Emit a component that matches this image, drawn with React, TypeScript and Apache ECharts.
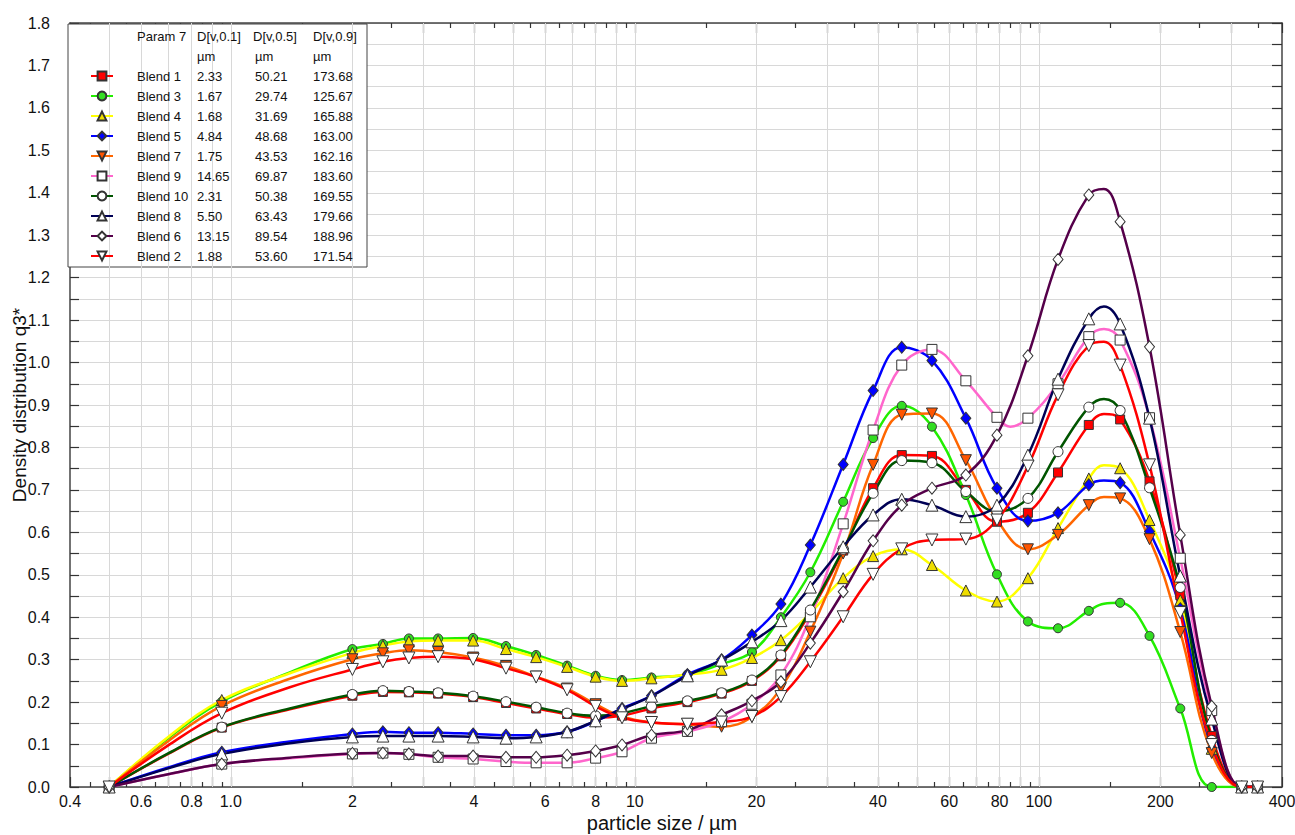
import React, { useEffect, useRef } from 'react';
import * as echarts from 'echarts';

// particle-size channels (µm) at which markers are drawn
const SIZES = [0.5, 0.95, 2.0, 2.38, 2.76, 3.26, 3.98, 4.8, 5.7, 6.8, 8.0, 9.3, 11, 13.5, 16.4, 19.5, 23, 27.2, 32.8, 38.9, 45.8, 54.4, 66, 78.8, 94, 111.6, 133, 159, 188, 224, 268, 318, 348];

const BLEND_1 = [0, 0.14, 0.215, 0.224, 0.223, 0.22, 0.212, 0.198, 0.185, 0.172, 0.163, 0.168, 0.185, 0.2, 0.22, 0.25, 0.308, 0.412, 0.557, 0.704, 0.782, 0.78, 0.70, 0.625, 0.646, 0.741, 0.853, 0.866, 0.72, 0.452, 0.12, 0, 0];
const BLEND_3 = [0, 0.201, 0.325, 0.337, 0.35, 0.35, 0.351, 0.332, 0.311, 0.286, 0.262, 0.252, 0.258, 0.265, 0.29, 0.318, 0.4, 0.506, 0.672, 0.822, 0.898, 0.849, 0.688, 0.501, 0.39, 0.374, 0.415, 0.434, 0.356, 0.185, 0, 0, 0];
const BLEND_4 = [0, 0.205, 0.316, 0.333, 0.343, 0.345, 0.345, 0.325, 0.306, 0.283, 0.26, 0.25, 0.256, 0.265, 0.276, 0.304, 0.346, 0.41, 0.492, 0.544, 0.56, 0.523, 0.463, 0.437, 0.492, 0.61, 0.727, 0.751, 0.629, 0.44, 0.09, 0, 0];
const BLEND_5 = [0, 0.082, 0.125, 0.13, 0.128, 0.128, 0.125, 0.122, 0.122, 0.13, 0.155, 0.185, 0.215, 0.265, 0.30, 0.358, 0.431, 0.57, 0.76, 0.934, 1.036, 1.005, 0.869, 0.704, 0.627, 0.646, 0.712, 0.717, 0.602, 0.42, 0.09, 0, 0];
const BLEND_7 = [0, 0.191, 0.301, 0.315, 0.322, 0.318, 0.305, 0.285, 0.26, 0.232, 0.195, 0.166, 0.152, 0.148, 0.142, 0.165, 0.233, 0.366, 0.55, 0.759, 0.877, 0.88, 0.77, 0.63, 0.56, 0.594, 0.664, 0.68, 0.584, 0.365, 0.08, 0, 0];
const BLEND_9 = [0, 0.054, 0.078, 0.08, 0.077, 0.07, 0.066, 0.06, 0.057, 0.057, 0.068, 0.083, 0.115, 0.131, 0.154, 0.195, 0.264, 0.401, 0.62, 0.841, 0.994, 1.031, 0.957, 0.871, 0.869, 0.95, 1.061, 1.053, 0.87, 0.539, 0.18, 0, 0];
const BLEND_10 = [0, 0.141, 0.218, 0.227, 0.225, 0.222, 0.214, 0.201, 0.188, 0.174, 0.168, 0.174, 0.19, 0.203, 0.222, 0.252, 0.311, 0.417, 0.56, 0.692, 0.769, 0.764, 0.696, 0.649, 0.68, 0.79, 0.895, 0.887, 0.705, 0.47, 0.11, 0, 0];
const BLEND_8 = [0, 0.078, 0.118, 0.12, 0.12, 0.12, 0.118, 0.115, 0.118, 0.13, 0.156, 0.184, 0.214, 0.262, 0.299, 0.342, 0.392, 0.471, 0.566, 0.641, 0.678, 0.664, 0.637, 0.664, 0.782, 0.961, 1.103, 1.091, 0.869, 0.497, 0.16, 0, 0];
const BLEND_6 = [0, 0.054, 0.079, 0.08, 0.078, 0.073, 0.073, 0.07, 0.07, 0.075, 0.085, 0.099, 0.122, 0.134, 0.17, 0.203, 0.248, 0.339, 0.46, 0.58, 0.664, 0.704, 0.735, 0.829, 1.016, 1.243, 1.395, 1.332, 1.037, 0.594, 0.19, 0, 0];
const BLEND_2 = [0, 0.174, 0.277, 0.295, 0.304, 0.307, 0.301, 0.28, 0.259, 0.229, 0.19, 0.163, 0.152, 0.148, 0.153, 0.166, 0.213, 0.295, 0.401, 0.501, 0.561, 0.582, 0.584, 0.629, 0.756, 0.924, 1.04, 0.994, 0.759, 0.411, 0.10, 0, 0];

// extra points on the curves (no marker): [size, value]
const LINE_1 = [[0.7, 0.078], [1.4, 0.183], [145, 0.879]];
const LINE_3 = [[0.7, 0.115], [1.4, 0.27], [145, 0.432]];
const LINE_4 = [[0.7, 0.118], [1.4, 0.268], [145, 0.758]];
const LINE_5 = [[0.7, 0.046], [1.4, 0.107], [145, 0.722]];
const LINE_7 = [[0.7, 0.108], [1.4, 0.255], [145, 0.683]];
const LINE_9 = [[0.7, 0.03], [1.4, 0.068], [85, 0.849], [145, 1.079]];
const LINE_10 = [[0.7, 0.079], [1.4, 0.185], [145, 0.914]];
const LINE_8 = [[0.7, 0.044], [1.4, 0.103], [145, 1.132]];
const LINE_6 = [[0.7, 0.03], [1.4, 0.069], [145, 1.409]];
const LINE_2 = [[0.7, 0.098], [1.4, 0.235], [145, 1.049]];

const NAMES = ['Blend 1', 'Blend 3', 'Blend 4', 'Blend 5', 'Blend 7', 'Blend 9', 'Blend 10', 'Blend 8', 'Blend 6', 'Blend 2'];
const D10 = ['2.33', '1.67', '1.68', '4.84', '1.75', '14.65', '2.31', '5.50', '13.15', '1.88'];
const D50 = ['50.21', '29.74', '31.69', '48.68', '43.53', '69.87', '50.38', '63.43', '89.54', '53.60'];
const D90 = ['173.68', '125.67', '165.88', '163.00', '162.16', '183.60', '169.55', '179.66', '188.96', '171.54'];

const X_LABELS = [0.4, 0.6, 0.8, 1, 2, 4, 6, 8, 10, 20, 40, 60, 80, 100, 200, 400];
const LONG_TICKS = [0.4, 0.5, 0.6, 0.7, 0.8, 0.9, 1, 2, 3, 4, 5, 6, 7, 8, 9, 10, 20, 30, 40, 50, 60, 70, 80, 90, 100, 200, 300, 400];
const SHORT_TICKS = [0.45, 0.55, 0.65, 0.75, 0.85, 0.95, 1.5, 2.5, 3.5, 4.5, 5.5, 6.5, 7.5, 8.5, 9.5, 15, 25, 35, 45, 55, 65, 75, 85, 95, 150, 250, 350];
const GRID_X = [0.5, 0.6, 0.7, 0.8, 0.9, 1, 2, 3, 4, 5, 6, 7, 8, 9, 10, 20, 30, 40, 50, 60, 70, 80, 90, 100, 200, 300];

const FONT = '"Liberation Sans", Arial, sans-serif';

const STYLES = [
  { values: BLEND_1, extra: LINE_1, line: '#ff0000', fill: '#ff0000', symbol: 'rect', size: 9, rotate: 0 },
  { values: BLEND_3, extra: LINE_3, line: '#22ee00', fill: '#33dd22', symbol: 'circle', size: 9, rotate: 0 },
  { values: BLEND_4, extra: LINE_4, line: '#ffff00', fill: '#eedd00', symbol: 'triangle', size: 11, rotate: 0 },
  { values: BLEND_5, extra: LINE_5, line: '#0000ff', fill: '#0000ff', symbol: 'diamond', size: [10, 12], rotate: 0 },
  { values: BLEND_7, extra: LINE_7, line: '#ff6600', fill: '#ff5500', symbol: 'triangle', size: 11, rotate: 180 },
  { values: BLEND_9, extra: LINE_9, line: '#ff66cc', fill: '#ffffff', symbol: 'rect', size: 10, rotate: 0 },
  { values: BLEND_10, extra: LINE_10, line: '#005500', fill: '#ffffff', symbol: 'circle', size: 10, rotate: 0 },
  { values: BLEND_8, extra: LINE_8, line: '#000055', fill: '#ffffff', symbol: 'triangle', size: 12, rotate: 0 },
  { values: BLEND_6, extra: LINE_6, line: '#55004a', fill: '#ffffff', symbol: 'diamond', size: [10, 12], rotate: 0 },
  { values: BLEND_2, extra: LINE_2, line: '#ff0000', fill: '#ffffff', symbol: 'triangle', size: 12, rotate: 180 },
];

function buildData(values: number[], extra: number[][]) {
  const pts: any[] = SIZES.map((s, i) => ({ value: [s, values[i]] }));
  extra.forEach((p) => pts.push({ value: [p[0], p[1]], symbol: 'none' }));
  pts.sort((a, b) => a.value[0] - b.value[0]);
  return pts;
}

function xFmt(v: number) {
  if (Math.abs(v - 1) < 1e-9) return '1.0';
  if (v < 1) return v.toFixed(1);
  return String(Math.round(v));
}

export default function App() {
  const ref = useRef<HTMLDivElement>(null);
  useEffect(() => {
    if (!ref.current) return;
    const chart = echarts.init(ref.current, undefined, { renderer: 'svg' });
    const axisLineStyle = { color: '#444', width: 1.5 };
    const tickStyle = { color: '#333', width: 1.2 };
    const series: any[] = STYLES.map((st, i) => ({
      type: 'line',
      name: NAMES[i],
      xAxisIndex: 0,
      yAxisIndex: 0,
      data: buildData(st.values, st.extra),
      smooth: 0.4,
      symbol: st.symbol,
      symbolSize: st.size,
      symbolRotate: st.rotate,
      showAllSymbol: true,
      lineStyle: { color: st.line, width: 2.5 },
      itemStyle: { color: st.fill, borderColor: '#333', borderWidth: 1 },
      z: 5,
    }));
    series.push({
      type: 'line',
      name: 'grid',
      data: [],
      silent: true,
      z: 1,
      markLine: {
        silent: true,
        symbol: ['none', 'none'],
        label: { show: false },
        lineStyle: { color: '#d8d8d8', width: 1, type: 'solid' },
        data: GRID_X.map((x) => ({ xAxis: x })),
      },
    });
    const logX = { type: 'log', logBase: 10, min: 0.4, max: 400, gridIndex: 0 };
    chart.setOption({
      animation: false,
      backgroundColor: '#ffffff',
      textStyle: { fontFamily: FONT },
      grid: { left: 70, top: 23, width: 1212, height: 764, containLabel: false, outerBoundsMode: 'none' },
      xAxis: [
        {
          ...logX,
          position: 'bottom',
          axisLine: { show: true, lineStyle: axisLineStyle },
          axisTick: { show: true, inside: true, length: 10, customValues: LONG_TICKS, lineStyle: tickStyle },
          axisLabel: { show: true, customValues: X_LABELS, formatter: xFmt, fontSize: 16, color: '#111', fontFamily: FONT, margin: 6 },
          splitLine: { show: false },
          name: 'particle size / µm',
          nameLocation: 'middle',
          nameGap: 26,
          nameMoveOverlap: false,
          nameTextStyle: { fontSize: 20, lineHeight: 20, color: '#111', fontFamily: FONT, padding: [0, 28, 0, 0] },
        },
        {
          ...logX,
          position: 'bottom',
          axisLine: { show: false },
          axisTick: { show: true, inside: true, length: 5, customValues: SHORT_TICKS, lineStyle: tickStyle },
          axisLabel: { show: false },
          splitLine: { show: false },
        },
        {
          ...logX,
          position: 'top',
          axisLine: { show: true, lineStyle: axisLineStyle },
          axisTick: { show: true, inside: true, length: 10, customValues: LONG_TICKS, lineStyle: tickStyle },
          axisLabel: { show: false },
          splitLine: { show: false },
        },
        {
          ...logX,
          position: 'top',
          axisLine: { show: false },
          axisTick: { show: true, inside: true, length: 5, customValues: SHORT_TICKS, lineStyle: tickStyle },
          axisLabel: { show: false },
          splitLine: { show: false },
        },
      ],
      yAxis: [
        {
          type: 'value',
          min: 0,
          max: 1.8,
          interval: 0.05,
          position: 'left',
          axisLine: { show: true, lineStyle: axisLineStyle },
          axisTick: { show: true, inside: true, length: 9, lineStyle: tickStyle },
          axisLabel: {
            formatter: (v: number) => (Math.round(v * 100) % 10 === 0 ? v.toFixed(1) : ''),
            fontSize: 16,
            color: '#111',
            fontFamily: FONT,
            margin: 20,
          },
          splitLine: { show: true, lineStyle: { color: '#d8d8d8', width: 1 } },
          name: 'Density distribution q3*',
          nameLocation: 'middle',
          nameGap: 41,
          nameMoveOverlap: false,
          nameTextStyle: { fontSize: 19, color: '#111', fontFamily: FONT },
        },
        {
          type: 'value',
          min: 0,
          max: 1.8,
          interval: 0.05,
          position: 'right',
          axisLine: { show: true, lineStyle: axisLineStyle },
          axisTick: { show: true, inside: true, length: 10, lineStyle: tickStyle },
          axisLabel: { show: false },
          splitLine: { show: false },
        },
      ],
      legend: {
        data: NAMES,
        orient: 'vertical',
        left: 85,
        top: 64,
        itemWidth: 22,
        itemHeight: 11,
        itemGap: 6,
        z: 10,
        selectedMode: false,
        formatter: (name: string) => {
          const i = NAMES.indexOf(name);
          return `{s|}{a|${name}}{b|${D10[i]}}{c|${D50[i]}}{d|${D90[i]}}`;
        },
        textStyle: {
          fontFamily: FONT,
          fontSize: 13,
          color: '#111',
          lineHeight: 14,
          rich: {
            s: { width: 19, fontSize: 13, lineHeight: 14 },
            a: { width: 60, fontSize: 13, lineHeight: 14, fontFamily: FONT, color: '#111' },
            b: { width: 58, fontSize: 13, lineHeight: 14, fontFamily: FONT, color: '#111' },
            c: { width: 58, fontSize: 13, lineHeight: 14, fontFamily: FONT, color: '#111' },
            d: { width: 50, fontSize: 13, lineHeight: 14, fontFamily: FONT, color: '#111' },
          },
        },
      },
      graphic: [
        {
          type: 'rect',
          z: 3,
          shape: { x: 68, y: 24, width: 299, height: 243 },
          style: { fill: '#ffffff', stroke: '#444', lineWidth: 1 },
        },
        { type: 'text', z: 11, x: 137, y: 36, style: { text: 'Param 7', fontSize: 13, fontFamily: FONT, fill: '#111', verticalAlign: 'middle' } },
        { type: 'text', z: 11, x: 197, y: 36, style: { text: 'D[v,0.1]', fontSize: 13, fontFamily: FONT, fill: '#111', verticalAlign: 'middle' } },
        { type: 'text', z: 11, x: 253, y: 36, style: { text: 'D[v,0.5]', fontSize: 13, fontFamily: FONT, fill: '#111', verticalAlign: 'middle' } },
        { type: 'text', z: 11, x: 313, y: 36, style: { text: 'D[v,0.9]', fontSize: 13, fontFamily: FONT, fill: '#111', verticalAlign: 'middle' } },
        { type: 'text', z: 11, x: 197, y: 56, style: { text: 'µm', fontSize: 13, fontFamily: FONT, fill: '#111', verticalAlign: 'middle' } },
        { type: 'text', z: 11, x: 255, y: 56, style: { text: 'µm', fontSize: 13, fontFamily: FONT, fill: '#111', verticalAlign: 'middle' } },
        { type: 'text', z: 11, x: 313, y: 56, style: { text: 'µm', fontSize: 13, fontFamily: FONT, fill: '#111', verticalAlign: 'middle' } },
      ],
      series,
    });
    return () => chart.dispose();
  }, []);
  return <div ref={ref} style={{ position: 'fixed', left: 0, top: 0, width: 1295, height: 835, background: '#fff' }} />;
}
